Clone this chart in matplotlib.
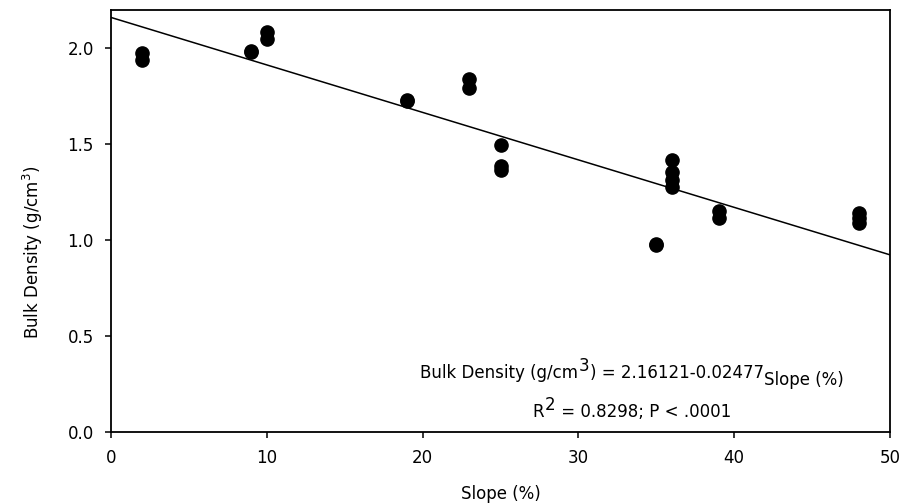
import matplotlib.pyplot as plt
import numpy as np

plt.rcParams['font.family'] = ['DejaVu Sans']
plt.rcParams['mathtext.fontset'] = 'dejavusans'

# Observed points (slope %, bulk density g/cm3)
slope = [2, 2, 9, 9, 10, 10, 19, 19, 23, 23, 25, 25, 25,
         35, 35, 36, 36, 36, 36, 39, 39, 48, 48, 48]
density = [1.977, 1.938, 1.982, 1.988, 2.087, 2.047, 1.733, 1.725, 1.838, 1.794,
           1.494, 1.385, 1.364, 0.981, 0.976, 1.416, 1.353, 1.315, 1.277,
           1.149, 1.115, 1.141, 1.115, 1.089]

# Fitted regression
intercept = 2.16121
coef = -0.02477
fit_x = np.array([0, 50])

xticks = [0, 10, 20, 30, 40, 50]
yticks = [0.0, 0.5, 1.0, 1.5, 2.0]

fig = plt.figure(figsize=(9.05, 5.04), dpi=100)
ax = fig.add_axes([111 / 905, 1 - 431.7 / 504, (890 - 111) / 905, (431.7 - 10) / 504])

ax.plot(slope, density, 'o', color='black', markersize=9.5, zorder=3)
ax.plot(fit_x, intercept + coef * fit_x, color='black', linewidth=1.1)

ax.set_xlim(0, 50)
ax.set_ylim(0, 2.2)
ax.set_xticks(xticks)
ax.set_yticks(yticks)
ax.set_yticklabels([f'{v:.1f}' for v in yticks])
ax.tick_params(direction='out', length=4.5, width=1.1, labelsize=12, pad=8)

for s in ax.spines.values():
    s.set_linewidth(1.3)

ax.set_xlabel('Slope (%)', fontsize=12, labelpad=13)
ax.set_ylabel('Bulk Density (g/cm$^{3}$)', fontsize=12)
ax.yaxis.set_label_coords(-0.085, 0.424)

# Equation, built from pieces so the super/subscripts stay full size
fs = 12
t1 = ax.text(0.36, 0.118, 'Bulk Density (g/cm', transform=ax.transAxes,
             ha='left', va='bottom', fontsize=fs)
t2 = ax.annotate('3', xy=(1, 0), xycoords=t1, xytext=(0.5, 5),
                 textcoords='offset points', ha='left', va='bottom', fontsize=fs)
t3 = ax.annotate(') = 2.16121-0.02477', xy=(1, 0), xycoords=t2, xytext=(0.5, -5),
                 textcoords='offset points', ha='left', va='bottom', fontsize=fs)
t4 = ax.annotate('Slope (%)', xy=(1, 0), xycoords=t3, xytext=(0, -5),
                 textcoords='offset points', ha='left', va='bottom', fontsize=fs)

r1 = ax.text(0.52, 0.025, 'R', transform=ax.transAxes,
             ha='left', va='bottom', fontsize=fs)
r2 = ax.annotate('2', xy=(1, 0), xycoords=r1, xytext=(0.5, 5),
                 textcoords='offset points', ha='left', va='bottom', fontsize=fs)
r3 = ax.annotate(' = 0.8298; P < .0001', xy=(1, 0), xycoords=r2, xytext=(0.5, -5),
                 textcoords='offset points', ha='left', va='bottom', fontsize=fs)

# centre each line on x = 632 px
fig.canvas.draw()
renderer = fig.canvas.get_renderer()
for first, last in [(t1, t4), (r1, r3)]:
    left = first.get_window_extent(renderer).x0
    right = last.get_window_extent(renderer).x1
    shift = 632 - (left + right) / 2
    x, y = first.get_position()
    first.set_position((x + shift / ax.bbox.width, y))

fig.savefig('out.png', dpi=100)
